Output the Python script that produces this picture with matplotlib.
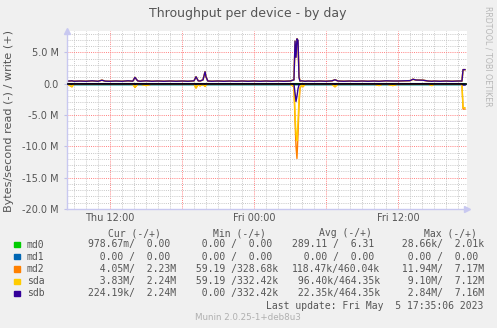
import matplotlib
matplotlib.use('Agg')
import matplotlib.pyplot as plt
from matplotlib.patches import Rectangle
from matplotlib.ticker import FixedLocator, FuncFormatter

# time in hours since Thu 00:00, values in MB/s
hours = [8.42, 8.83, 9.0, 9.5, 10.0, 10.5, 11.0, 11.33, 11.6, 12.0,
         12.5, 13.0, 13.5, 13.9, 14.08, 14.3, 14.5, 15.0, 15.5, 16.0,
         16.5, 17.0, 17.5, 18.0, 18.5, 19.0, 19.17, 19.35, 19.5, 19.75,
         19.92, 20.0, 20.15, 20.5, 21.0, 21.5, 22.0, 22.5, 23.0, 23.5,
         24.0, 24.5, 25.0, 25.5, 26.0, 26.5, 27.0, 27.33, 27.42, 27.5,
         27.58, 27.67, 27.75, 27.83, 28.0, 28.08, 28.25, 28.5, 29.0, 29.5,
         30.0, 30.5, 30.75, 31.0, 31.5, 32.0, 32.5, 33.0, 33.5, 34.0,
         34.42, 34.75, 35.0, 35.58, 36.0, 36.5, 37.0, 37.25, 37.5, 38.08,
         38.5, 38.83, 39.0, 39.5, 40.0, 40.5, 41.0, 41.33, 41.42, 41.58]

write_sdb = [0.40, 0.45, 0.38, 0.42, 0.38, 0.45, 0.38, 0.55, 0.40, 0.38,
             0.42, 0.38, 0.45, 0.40, 1.00, 0.45, 0.38, 0.45, 0.38, 0.42,
             0.38, 0.42, 0.38, 0.42, 0.38, 0.45, 1.10, 0.45, 0.42, 0.60,
             1.90, 1.10, 0.42, 0.38, 0.42, 0.38, 0.42, 0.38, 0.42, 0.38,
             0.42, 0.38, 0.42, 0.38, 0.42, 0.38, 0.42, 0.60, 6.80, 4.20,
             7.16, 6.90, 1.00, 0.42, 0.45, 0.42, 0.38, 0.42, 0.38, 0.42,
             0.38, 0.45, 0.62, 0.42, 0.38, 0.42, 0.38, 0.42, 0.38, 0.42,
             0.38, 0.42, 0.45, 0.42, 0.42, 0.45, 0.48, 0.70, 0.58, 0.55,
             0.42, 0.38, 0.42, 0.38, 0.42, 0.38, 0.42, 0.42, 2.24, 2.24]

write_md2 = [0.40, 0.45, 0.38, 0.42, 0.38, 0.45, 0.38, 0.55, 0.40, 0.38,
             0.42, 0.38, 0.45, 0.40, 1.00, 0.45, 0.38, 0.45, 0.38, 0.42,
             0.38, 0.42, 0.38, 0.42, 0.38, 0.45, 1.10, 0.45, 0.42, 0.60,
             1.90, 1.10, 0.42, 0.38, 0.42, 0.38, 0.42, 0.38, 0.42, 0.38,
             0.42, 0.38, 0.42, 0.38, 0.42, 0.38, 0.42, 0.60, 6.20, 5.60,
             7.17, 6.40, 1.20, 0.42, 0.45, 0.42, 0.38, 0.42, 0.38, 0.42,
             0.38, 0.45, 0.62, 0.42, 0.38, 0.42, 0.38, 0.42, 0.38, 0.42,
             0.38, 0.42, 0.45, 0.42, 0.42, 0.45, 0.48, 0.70, 0.58, 0.55,
             0.42, 0.38, 0.42, 0.38, 0.42, 0.38, 0.42, 0.42, 2.23, 2.23]

read_md2 = [0.05, 0.50, 0.05, 0.05, 0.05, 0.05, 0.05, 0.05, 0.05, 0.05,
            0.05, 0.05, 0.05, 0.05, 0.60, 0.10, 0.05, 0.30, 0.05, 0.05,
            0.05, 0.05, 0.05, 0.05, 0.05, 0.05, 0.70, 0.10, 0.35, 0.10,
            0.45, 0.20, 0.05, 0.05, 0.05, 0.05, 0.05, 0.05, 0.05, 0.05,
            0.05, 0.05, 0.05, 0.05, 0.05, 0.05, 0.05, 0.50, 6.00, 10.00,
            11.94, 8.00, 3.50, 0.80, 0.10, 0.50, 0.10, 0.05, 0.05, 0.05,
            0.05, 0.10, 0.50, 0.05, 0.05, 0.05, 0.05, 0.05, 0.05, 0.05,
            0.30, 0.05, 0.05, 0.30, 0.05, 0.05, 0.05, 0.05, 0.05, 0.05,
            0.05, 0.30, 0.05, 0.05, 0.05, 0.05, 0.05, 0.05, 4.05, 4.05]

read_sda = [0.05, 0.50, 0.05, 0.05, 0.05, 0.05, 0.05, 0.05, 0.05, 0.05,
            0.05, 0.05, 0.05, 0.05, 0.60, 0.10, 0.05, 0.30, 0.05, 0.05,
            0.05, 0.05, 0.05, 0.05, 0.05, 0.05, 0.70, 0.10, 0.35, 0.10,
            0.45, 0.20, 0.05, 0.05, 0.05, 0.05, 0.05, 0.05, 0.05, 0.05,
            0.05, 0.05, 0.05, 0.05, 0.05, 0.05, 0.05, 0.50, 5.00, 8.00,
            9.10, 6.00, 2.50, 0.60, 0.10, 0.50, 0.10, 0.05, 0.05, 0.05,
            0.05, 0.10, 0.50, 0.05, 0.05, 0.05, 0.05, 0.05, 0.05, 0.05,
            0.30, 0.05, 0.05, 0.30, 0.05, 0.05, 0.05, 0.05, 0.05, 0.05,
            0.05, 0.30, 0.05, 0.05, 0.05, 0.05, 0.05, 0.05, 3.83, 3.83]

read_sdb = [0.01, 0.02, 0.01, 0.01, 0.01, 0.01, 0.01, 0.01, 0.01, 0.01,
            0.01, 0.01, 0.01, 0.01, 0.05, 0.01, 0.01, 0.02, 0.01, 0.01,
            0.01, 0.01, 0.01, 0.01, 0.01, 0.01, 0.05, 0.01, 0.02, 0.01,
            0.03, 0.01, 0.01, 0.01, 0.01, 0.01, 0.01, 0.01, 0.01, 0.01,
            0.01, 0.01, 0.01, 0.01, 0.01, 0.01, 0.01, 0.05, 1.50, 2.84,
            2.00, 0.80, 0.20, 0.05, 0.01, 0.02, 0.01, 0.01, 0.01, 0.01,
            0.01, 0.01, 0.02, 0.01, 0.01, 0.01, 0.01, 0.01, 0.01, 0.01,
            0.01, 0.01, 0.01, 0.01, 0.01, 0.01, 0.01, 0.01, 0.01, 0.01,
            0.01, 0.01, 0.01, 0.01, 0.01, 0.01, 0.01, 0.01, 0.22, 0.22]

md_hours = [8.42, 41.58]
read_md0 = [0.0, 0.001]
write_md0 = [0.0, 0.0]
read_md1 = [0.0, 0.0]
write_md1 = [0.0, 0.0]

devices = ['md0', 'md1', 'md2', 'sda', 'sdb']
colors = ['#00cc00', '#0066b3', '#ff8000', '#ffcc00', '#330099']

legend_cur = ['978.67m/  0.00 ', '  0.00 /  0.00 ', '  4.05M/  2.23M', '  3.83M/  2.24M', '224.19k/  2.24M']
legend_min = ['  0.00 /  0.00 ', '  0.00 /  0.00 ', ' 59.19 /328.68k', ' 59.19 /332.42k', '  0.00 /332.42k']
legend_avg = ['289.11 /  6.31 ', '  0.00 /  0.00 ', '118.47k/460.04k', ' 96.40k/464.35k', ' 22.35k/464.35k']
legend_max = [' 28.66k/  2.01k', '  0.00 /  0.00 ', ' 11.94M/  7.17M', '  9.10M/  7.12M', '  2.84M/  7.16M']

W, H = 497, 328
TXT = '#555555'

fig = plt.figure(figsize=(W / 100, H / 100), dpi=100, facecolor='#f0f0f0')
ax = fig.add_axes([67 / W, 1 - 209 / H, 400 / W, 178 / H])
ax.set_facecolor('white')

series = [
    (md_hours, read_md0, write_md0),
    (md_hours, read_md1, write_md1),
    (hours, read_md2, write_md2),
    (hours, read_sda, write_sdb),
    (hours, read_sdb, write_sdb),
]
for (t, rd, wr), c in zip(series, colors):
    ax.plot(t, [-v * 1e6 for v in rd], color=c, lw=1.0)
    ax.plot(t, [v * 1e6 for v in wr], color=c, lw=1.0)

ax.axhline(0, color='black', lw=1.1, zorder=5)

ax.set_xlim(8.417, 41.75)
ax.set_ylim(-20e6, 8.4e6)

ax.xaxis.set_major_locator(FixedLocator([12, 18, 24, 30, 36]))
ax.xaxis.set_minor_locator(FixedLocator(range(9, 42)))
xlabels = {12: 'Thu 12:00', 24: 'Fri 00:00', 36: 'Fri 12:00'}
ax.xaxis.set_major_formatter(FuncFormatter(lambda v, p: xlabels.get(int(round(v)), '')))

ax.yaxis.set_major_locator(FixedLocator([-20e6, -15e6, -10e6, -5e6, 0, 5e6]))
ax.yaxis.set_minor_locator(FixedLocator([v * 1e6 for v in range(-19, 9)]))
ax.yaxis.set_major_formatter(FuncFormatter(lambda v, p: '0.0' if v == 0 else '%.1f M' % (v / 1e6)))

ax.grid(which='minor', color='#c8c8c8', ls=(0, (1, 1.2)), lw=0.7)
ax.grid(which='major', color='#ff8080', ls=(0, (1, 1.2)), lw=0.7)
ax.set_axisbelow(True)

ax.tick_params(which='both', length=0)
ax.tick_params(axis='y', which='major', length=2, color='#c0c0e8', labelsize=7, labelcolor=TXT, pad=4)
ax.tick_params(axis='x', which='major', labelsize=7, labelcolor=TXT, pad=3)

for s in ['top', 'right']:
    ax.spines[s].set_visible(False)
for s in ['left', 'bottom']:
    ax.spines[s].set_color('#c8c8f0')
    ax.spines[s].set_linewidth(1.0)
ax.plot([1.0], [0], marker='>', color='#c8c8f0', ms=5, transform=ax.transAxes, clip_on=False)
ax.plot([0], [1.0], marker='^', color='#c8c8f0', ms=5, transform=ax.transAxes, clip_on=False)

fig.text(0.499, 1 - 13 / H, 'Throughput per device - by day', ha='center', va='center',
         fontsize=9, color=TXT)
fig.text(9 / W, 1 - 121 / H, 'Bytes/second read (-) / write (+)', rotation=90,
         ha='center', va='center', fontsize=8.1, color=TXT)
fig.text(488 / W, 1 - 56 / H, 'RRDTOOL / TOBI OETIKER', rotation=270,
         ha='center', va='center', fontsize=5.7, color='#b8b8b8')

mono = 'DejaVu Sans Mono'
col_x = [87.7, 190, 292.3, 395.8]
head_x = [107.7, 213.3, 319, 424]
for hx, h in zip(head_x, ['Cur (-/+)', 'Min (-/+)', 'Avg (-/+)', 'Max (-/+)']):
    fig.text(hx / W, 1 - 233 / H, h, family=mono, fontsize=7, color=TXT, va='center')

row_y = [244.5, 256.7, 269, 281.2, 293.4]
for i, dev in enumerate(devices):
    y = row_y[i]
    fig.patches.append(Rectangle((14.3 / W, 1 - (y + 2.7) / H), 5.7 / W, 5.4 / H,
                                 transform=fig.transFigure, color=colors[i]))
    fig.text(26.7 / W, 1 - y / H, dev, family=mono, fontsize=7, color=TXT, va='center')
    for cx, col in zip(col_x, [legend_cur, legend_min, legend_avg, legend_max]):
        fig.text(cx / W, 1 - y / H, col[i], family=mono, fontsize=7, color=TXT, va='center')

fig.text(483 / W, 1 - 305.7 / H, 'Last update: Fri May  5 17:35:06 2023', family=mono,
         fontsize=7, color=TXT, va='center', ha='right')
fig.text(248 / W, 1 - 317.5 / H, 'Munin 2.0.25-1+deb8u3', ha='center', va='center',
         fontsize=6.3, color='#b0b0b0')

fig.savefig('out.png', dpi=100, facecolor=fig.get_facecolor())
